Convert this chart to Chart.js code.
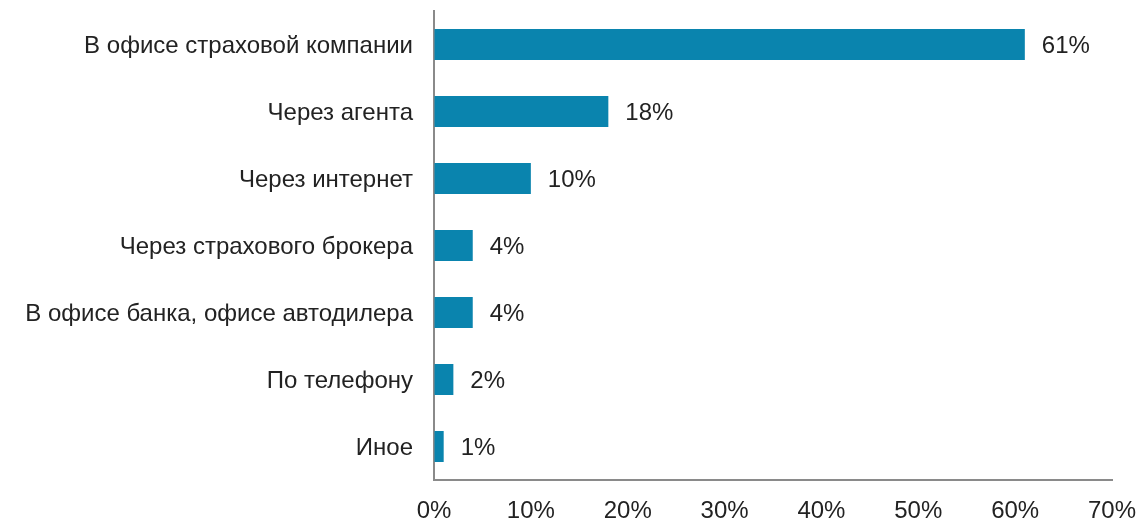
<!DOCTYPE html>
<html>
<head>
<meta charset="utf-8">
<script src="https://cdn.jsdelivr.net/npm/chart.js@4.4.1/dist/chart.umd.min.js"></script>
<style>
  html, body { margin: 0; padding: 0; background: #ffffff; }
  #wrap { width: 1140px; height: 520px; position: relative; }
</style>
</head>
<body>
<div id="wrap"><canvas id="chart" width="1140" height="520"></canvas></div>
<script>
// Channels used to buy a policy, share of respondents (%)
const categories = [
  'В офисе страховой компании',
  'Через агента',
  'Через интернет',
  'Через страхового брокера',
  'В офисе банка, офисе автодилера',
  'По телефону',
  'Иное'
];
const shares = [61, 18, 10, 4, 4, 2, 1];
const xTicks = [0, 10, 20, 30, 40, 50, 60, 70];

const barColor = '#0a84ae';
const axisColor = '#8a8a8a';
const textColor = '#222222';
const fontFamily = 'Arial, "Liberation Sans", Helvetica, sans-serif';
const fontSize = 24;

// Value labels to the right of each bar
const valueLabels = {
  id: 'valueLabels',
  afterDatasetsDraw(chart) {
    const ctx = chart.ctx;
    const meta = chart.getDatasetMeta(0);
    ctx.save();
    ctx.font = fontSize + 'px ' + fontFamily;
    ctx.fillStyle = textColor;
    ctx.textAlign = 'left';
    ctx.textBaseline = 'middle';
    meta.data.forEach((bar, i) => {
      ctx.fillText(shares[i] + '%', bar.x + 17, bar.y + 2);
    });
    ctx.restore();
  }
};

new Chart(document.getElementById('chart'), {
  type: 'bar',
  data: {
    labels: categories,
    datasets: [{
      data: shares,
      backgroundColor: barColor,
      borderWidth: 0,
      categoryPercentage: 1,
      barPercentage: 0.463
    }]
  },
  options: {
    indexAxis: 'y',
    responsive: false,
    animation: false,
    devicePixelRatio: 1,
    layout: { padding: { left: 0, right: 28, top: 11, bottom: 0 } },
    plugins: {
      legend: { display: false },
      tooltip: { enabled: false }
    },
    scales: {
      x: {
        min: 0,
        max: 70,
        afterBuildTicks(scale) {
          scale.ticks = xTicks.map(v => ({ value: v }));
        },
        afterFit(scale) {
          scale.height = 40;
          scale.paddingLeft = 0;
          scale.paddingRight = 0;
        },
        grid: { color: 'transparent', drawTicks: false },
        border: { display: true, color: axisColor, width: 2 },
        ticks: {
          padding: 17,
          color: textColor,
          font: { family: fontFamily, size: fontSize },
          callback: v => v + '%'
        }
      },
      y: {
        afterFit(scale) {
          scale.width = 434;
          scale.paddingTop = 0;
          scale.paddingBottom = 0;
        },
        grid: { color: 'transparent', drawTicks: false },
        border: { display: true, color: axisColor, width: 2 },
        ticks: {
          padding: 21,
          labelOffset: 2,
          color: textColor,
          font: { family: fontFamily, size: fontSize }
        }
      }
    }
  },
  plugins: [valueLabels]
});
</script>
</body>
</html>
